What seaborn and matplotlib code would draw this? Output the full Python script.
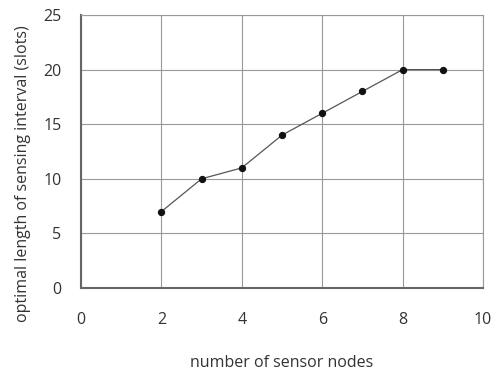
import seaborn as sns
import pandas as pd
import matplotlib.pyplot as plt

# data
nodes = [2, 3, 4, 5, 6, 7, 8, 9]
interval = [7, 10, 11, 14, 16, 18, 20, 20]
df = pd.DataFrame({'nodes': nodes, 'interval': interval})

sns.set_style('white')
plt.rcParams['font.family'] = ['Open Sans', 'DejaVu Sans']

fig = plt.figure(figsize=(4.91, 3.71), dpi=100)
ax = fig.add_axes([81 / 491, 1 - 288 / 371, 402 / 491, 273 / 371])

sns.lineplot(data=df, x='nodes', y='interval', ax=ax, color='#555555',
             linewidth=0.9, marker='o', markersize=4.5,
             markerfacecolor='#111111', markeredgecolor='#111111', zorder=3)

ax.set_xlim(0, 10)
ax.set_ylim(0, 25)
ax.set_xticks(range(0, 11, 2))
ax.set_yticks(range(0, 26, 5))
ax.grid(True, color='#999999', linewidth=0.8)

for side in ['top', 'right']:
    ax.spines[side].set_color('#999999')
    ax.spines[side].set_linewidth(0.8)
for side in ['left', 'bottom']:
    ax.spines[side].set_color('#666666')
    ax.spines[side].set_linewidth(1.5)

ax.tick_params(axis='both', direction='in', length=4, width=1, color='#666666',
               labelsize=11.5, labelcolor='#333333')
ax.tick_params(axis='x', pad=17)
ax.tick_params(axis='y', pad=14)

ax.set_xlabel('number of sensor nodes', fontsize=11.5, color='#333333', labelpad=20)
ax.set_ylabel('optimal length of sensing interval (slots)', fontsize=11.5,
              color='#333333')
ax.yaxis.set_label_coords(-0.125, 0.42)

fig.savefig('out.png', dpi=100)
